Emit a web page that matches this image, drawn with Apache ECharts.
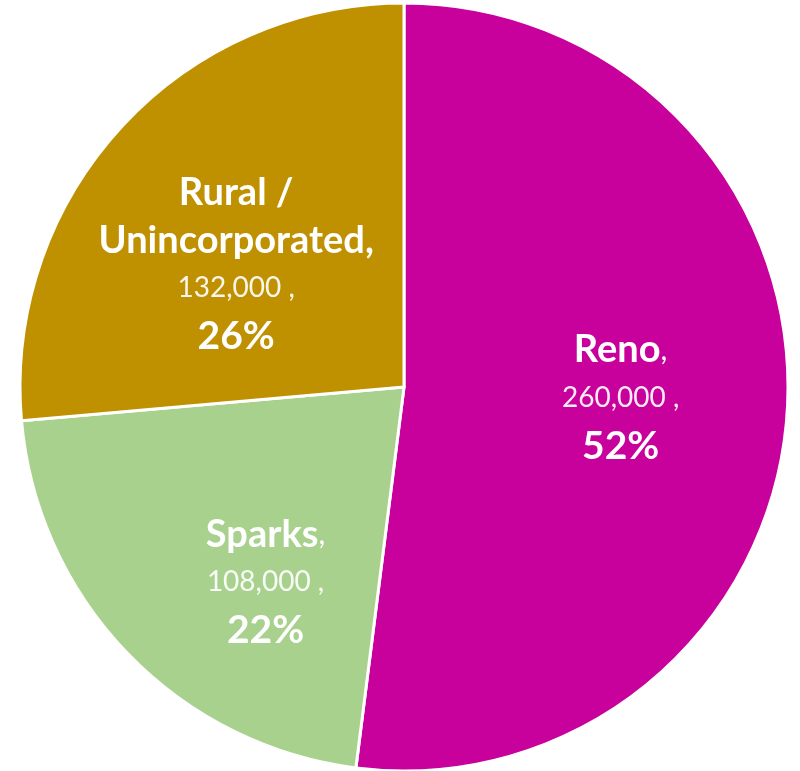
<!DOCTYPE html>
<html>
<head>
<meta charset="utf-8">
<script src="https://cdn.jsdelivr.net/npm/echarts@6/dist/echarts.min.js"></script>
<style>
  html, body { margin: 0; padding: 0; background: #fff; }
  #chart { width: 800px; height: 771px; }
</style>
</head>
<body>
<div id="chart"></div>
<script>
const categories = ['Reno', 'Sparks', 'Rural / Unincorporated'];
const population = [260000, 108000, 132000];
const colors = ['#C8009C', '#A9D18E', '#BF9000'];
// nudges so labels sit where the original has them
const labelOffsets = [[22, -1], [2, 60], [-24, 9]];

const chart = echarts.init(document.getElementById('chart'));

const seriesData = categories.map((name, i) => ({
  name: name,
  value: population[i],
  itemStyle: { color: colors[i] },
  label: { offset: labelOffsets[i] }
}));

function fmtLabel(p) {
  const val = p.value.toLocaleString('en-US');
  const pct = Math.round(p.percent) + '%';
  if (p.name.indexOf(' / ') >= 0) {
    const parts = p.name.split(' / ');
    return '{b|' + parts[0] + ' /}\n{b|' + parts[1] + ',}\n{v|' + val + ' ,}\n{p|' + pct + '}';
  }
  return '{b|' + p.name + '}{c|,}\n{v|' + val + ' ,}\n{p|' + pct + '}';
}

const option = {
  animation: false,
  series: [{
    type: 'pie',
    center: [404, 387],
    radius: 384,
    startAngle: 90,
    clockwise: true,
    itemStyle: { borderColor: '#ffffff', borderWidth: 3 },
    label: {
      show: true,
      position: 'inside',
      formatter: fmtLabel,
      align: 'center',
      rich: {
        b: { fontFamily: 'Lato', fontWeight: 'bold', fontSize: 38, color: '#fff', lineHeight: 48 },
        c: { fontFamily: 'Lato', fontSize: 30, color: '#fff', lineHeight: 48 },
        v: { fontFamily: 'Lato', fontSize: 28, color: '#fff', lineHeight: 48, opacity: 0.92 },
        p: { fontFamily: 'Lato', fontWeight: 'bold', fontSize: 39, color: '#fff', lineHeight: 48 }
      }
    },
    labelLine: { show: false },
    emphasis: { disabled: true },
    data: seriesData
  }]
};

chart.setOption(option);
</script>
</body>
</html>
